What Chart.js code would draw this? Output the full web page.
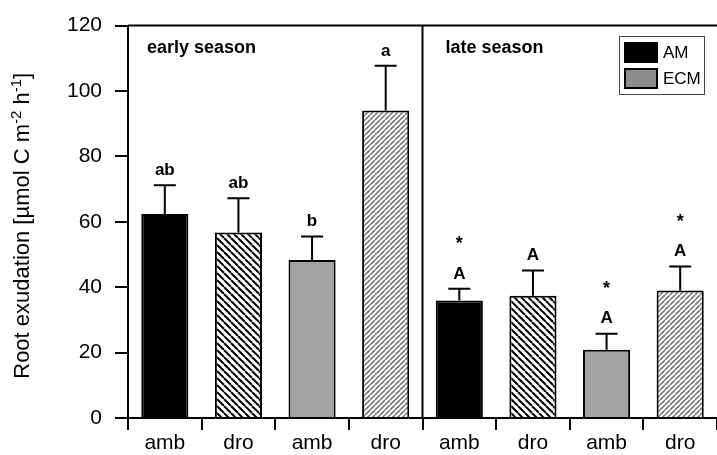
<!DOCTYPE html>
<html>
<head>
<meta charset="utf-8">
<script src="https://cdn.jsdelivr.net/npm/chart.js@4.4.1/dist/chart.umd.min.js"></script>
<style>
  html, body { margin: 0; padding: 0; background: #fff; overflow: hidden; }
  canvas { display: block; }
</style>
</head>
<body>
<canvas id="rootChart" width="717" height="455"></canvas>
<script>
// treatment per bar (x tick labels)
const treatments = ["amb", "dro", "amb", "dro", "amb", "dro", "amb", "dro"];
// mycorrhizal type per bar
const mycType = ["AM", "AM", "ECM", "ECM", "AM", "AM", "ECM", "ECM"];
const seasons = ["early season", "late season"];
// root exudation (µmol C m-2 h-1) and standard error
const exudation = [62.4, 56.7, 48.3, 94.0, 35.9, 37.4, 20.9, 39.0];
const stdError = [8.8, 10.5, 7.2, 13.7, 3.6, 7.7, 4.9, 7.3];
const letters = ["ab", "ab", "b", "a", "A", "A", "A", "A"];
const stars = ["", "", "", "", "*", "", "*", "*"];
const yTicks = [0, 20, 40, 60, 80, 100, 120];

const FONT = "'Liberation Sans', Arial, Helvetica, sans-serif";
const GRAY = "#a3a3a3";

function hatch(color, size, width, dir) {
    const c = document.createElement("canvas");
    c.width = size;
    c.height = size;
    const g = c.getContext("2d");
    g.fillStyle = "#fff";
    g.fillRect(0, 0, size, size);
    g.strokeStyle = color;
    g.lineWidth = width;
    g.beginPath();
    for (let k = -1; k <= 1; k++) {
        if (dir === "back") {
            g.moveTo(k * size, 0);
            g.lineTo(k * size + size, size);
        } else {
            g.moveTo(k * size, size);
            g.lineTo(k * size + size, 0);
        }
    }
    g.stroke();
    return g.createPattern(c, "repeat");
}

const ctx = document.getElementById("rootChart").getContext("2d");
const amHatch = hatch("#000", 7, 2, "back");
const ecmHatch = hatch("#7a7a7a", 5, 1.6, "fwd");

const fills = treatments.map((t, i) => {
    if (mycType[i] === "AM") return t === "amb" ? "#000" : amHatch;
    return t === "amb" ? GRAY : ecmHatch;
});

const extras = {
    id: "extras",
    afterDatasetsDraw(chart) {
        const { ctx, chartArea: area, scales: { x, y } } = chart;
        ctx.save();
        ctx.strokeStyle = "#000";
        ctx.lineWidth = 2;

        // top frame line
        ctx.beginPath();
        ctx.moveTo(area.left, area.top);
        ctx.lineTo(area.right, area.top);
        ctx.stroke();

        // season divider
        const mid = (x.getPixelForValue(3) + x.getPixelForValue(4)) / 2;
        ctx.beginPath();
        ctx.moveTo(mid, area.top);
        ctx.lineTo(mid, area.bottom);
        ctx.stroke();

        // error bars + letters
        ctx.textAlign = "center";
        ctx.textBaseline = "middle";
        exudation.forEach((v, i) => {
            const px = x.getPixelForValue(i);
            const top = y.getPixelForValue(v + stdError[i]);
            ctx.beginPath();
            ctx.moveTo(px, y.getPixelForValue(v));
            ctx.lineTo(px, top);
            ctx.moveTo(px - 11, top);
            ctx.lineTo(px + 11, top);
            ctx.stroke();
            ctx.fillStyle = "#000";
            ctx.font = "bold 17px " + FONT;
            ctx.fillText(letters[i], px, top - 15);
            if (stars[i]) {
                ctx.font = "bold 18px " + FONT;
                ctx.fillText(stars[i], px, top - 45);
            }
        });

        // season labels
        ctx.textAlign = "left";
        ctx.font = "bold 18px " + FONT;
        ctx.fillText(seasons[0], area.left + 19, area.top + 22);
        ctx.fillText(seasons[1], mid + 23, area.top + 22);

        // legend
        const lx = 619, ly = 36;
        ctx.lineWidth = 1;
        ctx.strokeStyle = "#444";
        ctx.strokeRect(lx + 0.5, ly + 0.5, 85, 58);
        ctx.fillStyle = "#000";
        ctx.fillRect(624, 42, 34, 21);
        ctx.fillStyle = "#8c8c8c";
        ctx.fillRect(625, 69, 32, 19);
        ctx.strokeStyle = "#000";
        ctx.lineWidth = 2;
        ctx.strokeRect(625, 69, 32, 19);
        ctx.fillStyle = "#000";
        ctx.font = "17px " + FONT;
        ctx.fillText("AM", 663, 53);
        ctx.fillText("ECM", 663, 79);

        // y axis title with superscripts
        ctx.save();
        ctx.translate(23, (area.top + area.bottom) / 2 + 4);
        ctx.rotate(-Math.PI / 2);
        const parts = [
            ["Root exudation [µmol C m", false],
            ["-2", true],
            [" h", false],
            ["-1", true],
            ["]", false]
        ];
        const big = "22px " + FONT, small = "15px " + FONT;
        let total = 0;
        parts.forEach(p => { ctx.font = p[1] ? small : big; total += ctx.measureText(p[0]).width; });
        let cx = -total / 2;
        ctx.textAlign = "left";
        parts.forEach(p => {
            ctx.font = p[1] ? small : big;
            ctx.fillText(p[0], cx, p[1] ? -6 : 0);
            cx += ctx.measureText(p[0]).width;
        });
        ctx.restore();

        ctx.restore();
    }
};

new Chart(ctx, {
    type: "bar",
    data: {
        labels: treatments,
        datasets: [{
            label: "Root exudation",
            data: exudation,
            backgroundColor: fills,
            borderColor: "#000",
            borderWidth: 2,
            barPercentage: 0.64,
            categoryPercentage: 1
        }]
    },
    options: {
        responsive: false,
        animation: false,
        devicePixelRatio: 1,
        layout: { padding: { top: 24, left: 0, right: 0, bottom: 0 } },
        plugins: { legend: { display: false }, tooltip: { enabled: false } },
        scales: {
            x: {
                grid: { offset: true, drawOnChartArea: false, tickLength: 12, lineWidth: 2, color: "#000" },
                border: { display: true, width: 2, color: "#000" },
                ticks: { color: "#000", font: { size: 21, family: FONT }, padding: 1 },
                afterFit: s => { s.height = 37; }
            },
            y: {
                min: 0,
                max: 120,
                afterBuildTicks: s => { s.ticks = yTicks.map(v => ({ value: v })); },
                grid: { drawOnChartArea: false, tickLength: 13, lineWidth: 2, color: "#000" },
                border: { display: true, width: 2, color: "#000" },
                ticks: { color: "#000", font: { size: 21, family: FONT }, padding: 13 },
                afterFit: s => { s.width = 128; }
            }
        }
    },
    plugins: [extras]
});
</script>
</body>
</html>
